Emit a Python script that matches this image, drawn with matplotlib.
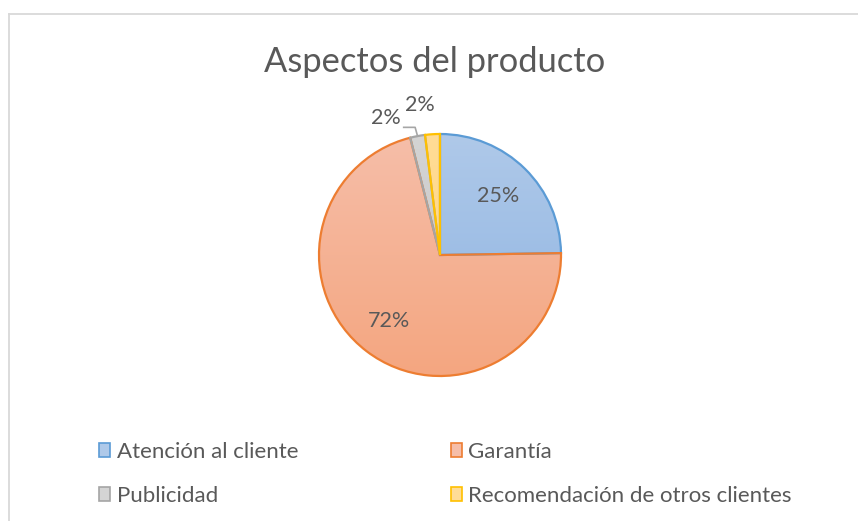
import matplotlib
matplotlib.use("Agg")
import matplotlib.pyplot as plt
import numpy as np
from matplotlib.patches import Rectangle
from matplotlib.lines import Line2D
from matplotlib.colors import LinearSegmentedColormap

plt.rcParams["font.family"] = ["Lato", "DejaVu Sans"]

# data
categories = ["Atención al cliente", "Garantía", "Publicidad", "Recomendación de otros clientes"]
shares = [25, 72, 2, 2]
pct_labels = ["25%", "72%", "2%", "2%"]

# styles
edge_colors = ["#5B9BD5", "#ED7D31", "#A5A5A5", "#FFC000"]
top_colors = ["#AFC9E9", "#F6BEA9", "#D4D4D4", "#FFDC96"]
bottom_colors = ["#8DB3E2", "#F4A680", "#C3C3C3", "#FFD47E"]
text_col = "#595959"

W, H = 858, 521
fig = plt.figure(figsize=(W / 100, H / 100), dpi=100)

# chart area border (only top/left visible in the crop)
fig.add_artist(Line2D([9 / W, 9 / W], [0, 1 - 13.5 / H], color="#D9D9D9", lw=1.3))
fig.add_artist(Line2D([9 / W, 1], [1 - 13.5 / H, 1 - 13.5 / H], color="#D9D9D9", lw=1.3))

fig.text(435 / W, 1 - 62 / H, "Aspectos del producto", ha="center", va="center",
         fontsize=24.8, color=text_col)

# pie axes: centre (440, 255), radius 121 px
cx, cy, r = 440, 255, 121
lim = 1.3
ax = fig.add_axes([(cx - r * lim) / W, (H - cy - r * lim) / H, 2 * r * lim / W, 2 * r * lim / H])

wedges, _ = ax.pie(shares, startangle=90, counterclock=False, radius=1,
                   wedgeprops=dict(linewidth=1.6), frame=True)
ax.set_xlim(-lim, lim)
ax.set_ylim(-lim, lim)
ax.set_aspect("equal")
ax.axis("off")

grad = np.linspace(0, 1, 256).reshape(-1, 1)
for w, ec, tc, bc in zip(wedges, edge_colors, top_colors, bottom_colors):
    w.set_facecolor("none")
    w.set_edgecolor(ec)
    w.set_zorder(3)
    cmap = LinearSegmentedColormap.from_list("g", [tc, bc])
    im = ax.imshow(grad, cmap=cmap, extent=[-1, 1, -1, 1], origin="upper",
                   aspect="auto", zorder=2)
    im.set_clip_path(w)

# percentage labels
for i, (w, lab) in enumerate(zip(wedges, pct_labels)):
    mid = np.deg2rad((w.theta1 + w.theta2) / 2)
    if shares[i] > 10:
        d = 0.69
        ax.text(d * np.cos(mid), d * np.sin(mid), lab, ha="center", va="center",
                fontsize=15.5, color=text_col, zorder=5)

# small slices: labels outside
small_pos = {2: (-0.445, 1.13), 3: (-0.17, 1.24)}
for i, (x, y) in small_pos.items():
    ax.text(x, y, pct_labels[i], ha="center", va="center", fontsize=15.5,
            color=text_col, zorder=5)
# leader line for Publicidad
w = wedges[2]
mid = np.deg2rad((w.theta1 + w.theta2) / 2)
ex, ey = np.cos(mid), np.sin(mid)
ax.plot([-0.30, ex - 0.02, ex], [1.055, 1.055, ey], color="#A6A6A6", lw=1.2,
        zorder=4, clip_on=False)

# legend
handles = [Rectangle((0, 0), 1, 1, facecolor=tc, edgecolor=ec, lw=1.2)
           for tc, ec in zip(top_colors, edge_colors)]
order = [0, 2, 1, 3]
leg = fig.legend([handles[i] for i in order], [categories[i] for i in order],
                 ncol=2, loc="upper left", bbox_to_anchor=(79 / W, 1 - 422 / H),
                 frameon=False, fontsize=16, labelcolor=text_col,
                 handlelength=0.5, handleheight=0.63, handletextpad=0.3,
                 columnspacing=6.85, labelspacing=1.08)

fig.savefig("out.png", dpi=100)
